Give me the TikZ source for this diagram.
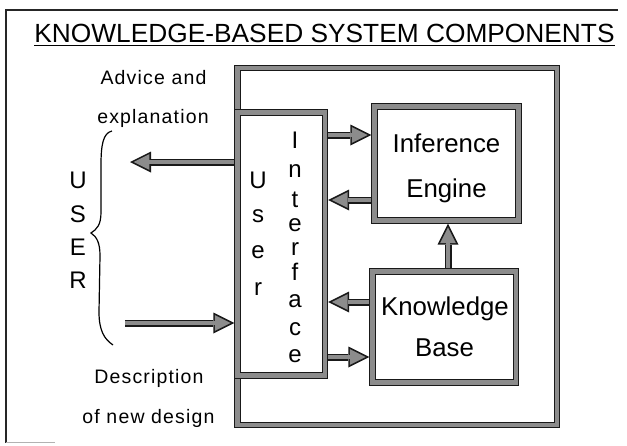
\documentclass[tikz,border=0pt]{standalone}
\usepackage{fontspec}
\setmainfont{Liberation Sans}
\newfontfamily\labelfont[LetterSpace=6]{Liberation Sans}
\usetikzlibrary{arrows.meta,backgrounds}
\colorlet{bandgray}{black!45}
\colorlet{bandedge}{black!90}
\begin{document}
\begin{tikzpicture}[x=1pt,y=-1pt,
  band/.style={draw=bandedge, line width=1pt, double=bandgray, double distance=4.4pt,
    outer sep=3.2pt, inner sep=0pt},
  blockarrow/.style={draw=bandedge, line width=7pt,
    -{Triangle[length=21pt,width=21pt,line width=0pt]},
    postaction={draw=bandgray, line width=4.2pt, shorten >=3.58pt,
      -{Triangle[length=15.8pt,width=15.8pt,line width=0pt]}}},
  lbl/.style={inner sep=0pt, anchor=base, font=\labelfont\fontsize{19.5}{24}\selectfont},
  boxtext/.style={inner sep=0pt, anchor=base, font=\fontsize{25.8}{30}\selectfont},
  letter/.style={inner sep=0pt, anchor=base, font=\fontsize{24}{28}\selectfont},
  frame/.style={line width=1.5pt, black!85},
  bracestyle/.style={line width=1.2pt, black}
]
\useasboundingbox (0,0) rectangle (627,445);

% page frame
\draw[frame] (618,10) -- (6,10) -- (6,443);
\draw[line width=1pt, gray!60] (6,442) -- (55,442);

% title
\node[inner sep=0pt, anchor=base, font=\fontsize{26.3}{30}\selectfont] (title) at (324.5,42)
  {KNOWLEDGE-BASED SYSTEM COMPONENTS};
\draw[line width=1.6pt] ([yshift=-3.5pt]title.base west) -- ([yshift=-3.5pt]title.base east);

% boxes
\node[band, minimum width=319.5pt, minimum height=357pt] (big) at (397.25,246.5) {};
\node[band, minimum width=87.5pt, minimum height=263pt] (ui) at (281.25,244) {};
\node[band, minimum width=144pt, minimum height=114pt] (ie) at (446.5,163.5) {};
\node[band, minimum width=143.5pt, minimum height=111pt] (kb) at (444.25,327) {};

% box texts
\node[boxtext] (inf) at (446.5,152) {Inference};
\node[boxtext] (eng) at (446.5,197) {Engine};
\node[boxtext] (know) at (445,315) {Knowledge};
\node[boxtext] (kbase) at (444.5,356.7) {Base};

\foreach \ch/\yy [count=\i] in {U/188,s/222,e/258,r/295}
  \node[letter] (usr\i) at (258,\yy) {\ch};
\foreach \ch/\yy [count=\i] in {I/148,n/177,t/207,e/231,r/255,f/280,a/307,c/335,e/362}
  \node[letter] (itf\i) at (295,\yy) {\ch};
\foreach \ch/\yy [count=\i] in {U/188,S/222,E/255,R/288}
  \node[letter] (user\i) at (78,\yy) {\ch};

% side labels
\node[lbl] (adv1) at (153.5,84) {Advice and};
\node[lbl] (adv2) at (153,123) {explanation};
\node[lbl] (desc1) at (149,383) {Description};
\node[lbl] (desc2) at (148.5,423) {of new design};

% brace
\draw[bracestyle] (112,131) .. controls (103,133) and (101,145) .. (101,165)
  -- (101,212) .. controls (101,225) and (97,229) .. (91,233)
  .. controls (97,237) and (100,243) .. (100,256)
  -- (99,312) .. controls (99,330) and (104,339) .. (113,345);

% level coordinates
\coordinate (yA) at (0,135);
\coordinate (yB) at (0,200);
\coordinate (yC) at (0,302);
\coordinate (yD) at (0,357);
\coordinate (yOut) at (0,162);
\coordinate (yIn) at (0,323);
\coordinate (xV) at (448,0);
\coordinate (outTip) at (130,162);
\coordinate (inTail) at (125,323);

\begin{pgfonlayer}{background}
\draw[blockarrow] (ui.east |- yA) -- (ie.west |- yA);
\draw[blockarrow] (ie.west |- yB) -- (ui.east |- yB);
\draw[blockarrow] (kb.west |- yC) -- (ui.east |- yC);
\draw[blockarrow] (ui.east |- yD) -- (kb.west |- yD);
\draw[blockarrow] (kb.north -| xV) -- (ie.south -| xV);
\draw[blockarrow] (ui.west |- yOut) -- (outTip);
\draw[blockarrow] (inTail) -- (ui.west |- yIn);
\end{pgfonlayer}
\end{tikzpicture}
\end{document}
